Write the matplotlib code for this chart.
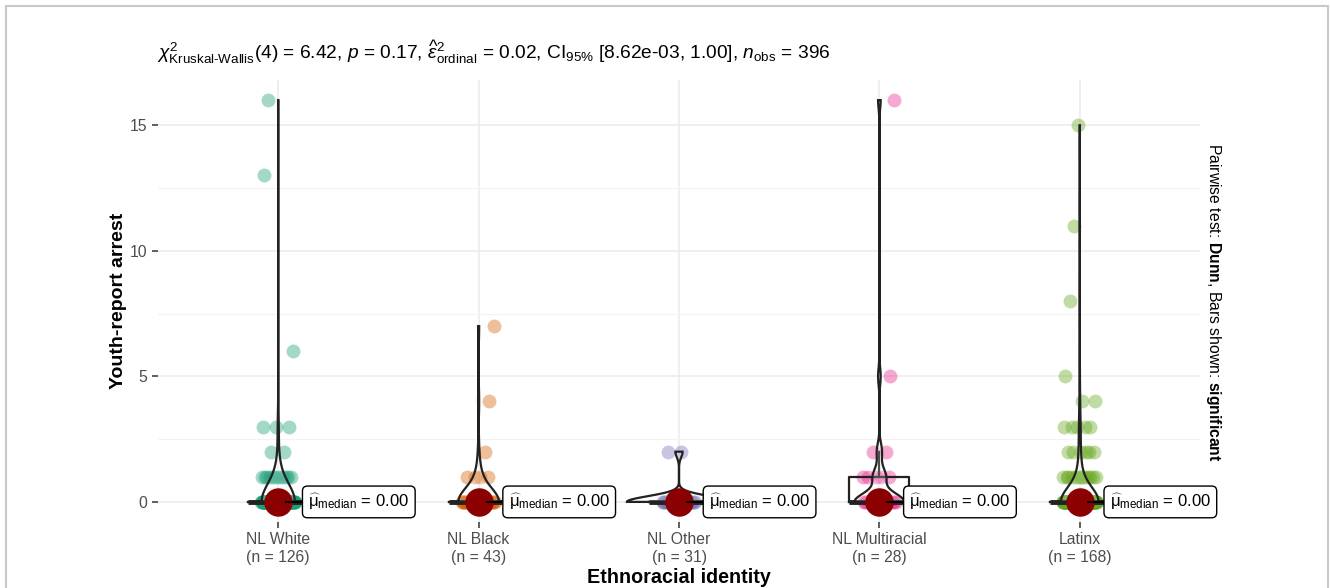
import numpy as np
import matplotlib
matplotlib.use("Agg")
import matplotlib.pyplot as plt
from matplotlib.patches import Rectangle, Polygon

plt.rcParams['font.family'] = ['Liberation Sans', 'DejaVu Sans']
plt.rcParams['mathtext.fontset'] = 'custom'
plt.rcParams['mathtext.rm'] = 'Liberation Sans'
plt.rcParams['mathtext.it'] = 'Liberation Sans:italic'
plt.rcParams['mathtext.bf'] = 'Liberation Sans:bold'

# 数据: 各组取值 -> 人数
groups = ['NL White', 'NL Black', 'NL Other', 'NL Multiracial', 'Latinx']
white = {16: 1, 13: 1, 6: 1, 3: 3, 2: 2, 1: 12, 0: 106}
black = {7: 1, 4: 1, 2: 1, 1: 4, 0: 36}
other = {2: 2, 0: 29}
multi = {16: 1, 5: 1, 2: 2, 1: 5, 0: 19}
latinx = {15: 1, 11: 1, 8: 1, 5: 1, 4: 2, 3: 5, 2: 6, 1: 14, 0: 137}
colors = ['#1B9E77', '#D95F02', '#7570B3', '#E7298A', '#66A61E']
title_txt = (r'$\chi^2_{\text{Kruskal-Wallis}}$(4) = 6.42, $\it{p}$ = 0.17, '
             r'$\widehat{\varepsilon}^2_{\text{ordinal}}$ = 0.02, CI$_{95\%}$ [8.62e-03, 1.00], '
             r'$\it{n}_{\text{obs}}$ = 396')

data = []
for d in [white, black, other, multi, latinx]:
    vals = []
    for k, c in d.items():
        vals += [k] * c
    data.append(np.array(vals, dtype=float))


def bw_nrd0(x):
    hi = np.std(x, ddof=1)
    q1, q3 = np.percentile(x, [25, 75])
    lo = min(hi, (q3 - q1) / 1.34)
    if not lo:
        lo = hi
    return 0.9 * lo * len(x) ** (-0.2)


fig = plt.figure(figsize=(13.3, 5.88), dpi=100)
ax = fig.add_axes([158 / 1330, 1 - 522 / 588, (1200 - 158) / 1330, (522 - 80) / 588])
pos = np.arange(1, 6)

# 散点 (确定性抖动, 同值内按黄金分割序列铺开)
for i, v in enumerate(data):
    off = np.zeros(len(v))
    for k, val in enumerate(np.unique(v)):
        idx = np.where(v == val)[0]
        off[idx] = ((np.arange(len(idx)) * 0.6180339887 + 0.42 + 0.13 * k) % 1 - 0.5) * 0.17
    ax.scatter(pos[i] + off, v, s=100, color=colors[i], alpha=0.4, linewidths=0, zorder=2)

# 箱线图
ax.boxplot(data, positions=pos, widths=0.3, showfliers=False, showcaps=False,
           patch_artist=False, manage_ticks=False,
           boxprops=dict(color='#222222', lw=1.6),
           whiskerprops=dict(color='#222222', lw=1.6),
           medianprops=dict(color='#222222', lw=3.5),
           zorder=3)

# 小提琴图
dens_all = []
for v in data:
    bw = bw_nrd0(v)
    yy = np.linspace(v.min(), v.max(), 512)
    dd = np.exp(-0.5 * ((yy[:, None] - v[None, :]) / bw) ** 2).sum(axis=1) / (len(v) * bw * np.sqrt(2 * np.pi))
    dens_all.append((yy, dd))
dmax = max(d.max() for _, d in dens_all)
for i, (yy, dd) in enumerate(dens_all):
    w = 0.26 * dd / dmax
    xs = np.concatenate([pos[i] - w, (pos[i] + w)[::-1]])
    ys = np.concatenate([yy, yy[::-1]])
    ax.add_patch(Polygon(np.column_stack([xs, ys]), closed=True, facecolor=(1, 1, 1, 0.2),
                         edgecolor='#222222', lw=1.6, zorder=4))

# 中位数点和标签
for i, v in enumerate(data):
    med = np.median(v)
    ax.scatter(pos[i], med, s=420, color='#8B0000', zorder=5, linewidths=0)
    ax.plot([pos[i] + 0.04, pos[i] + 0.125], [med, med], color='black', lw=1.5, zorder=6)
    ax.text(pos[i] + 0.15, med, r'$\widehat{\mathrm{\mu}}_{\mathrm{median}}$ = 0.00', fontsize=12,
            ha='left', va='center', zorder=7,
            bbox=dict(boxstyle='round,pad=0.35,rounding_size=0.3', fc='white', ec='black', lw=1.0))

ax.set_xlim(0.4, 5.6)
ax.set_ylim(-0.8, 16.8)
ax.set_xticks(pos)
ax.set_xticklabels([f'{g}\n(n = {len(v)})' for g, v in zip(groups, data)])
ax.set_yticks([0, 5, 10, 15])
ax.set_yticks([2.5, 7.5, 12.5], minor=True)
ax.tick_params(axis='both', which='major', labelsize=11.3, labelcolor='#4D4D4D', color='#333333',
               length=4, width=1.1)
ax.tick_params(axis='y', which='minor', length=0)
ax.grid(True, which='major', color='#EBEBEB', lw=1.1)
ax.grid(True, which='minor', axis='y', color='#F3F3F3', lw=0.8)
ax.set_axisbelow(True)
for s in ax.spines.values():
    s.set_visible(False)

ax.set_xlabel('Ethnoracial identity', fontsize=14.2, fontweight='bold', labelpad=2)
ax.set_ylabel('Youth-report arrest', fontsize=14, fontweight='bold', labelpad=2)
fig.text(157 / 1330, 1 - 52 / 588, title_txt, fontsize=13.8, ha='left', va='center')
fig.text(1213 / 1330, 1 - 302 / 588, r'Pairwise test: $\mathbf{Dunn}$, Bars shown: $\mathbf{significant}$',
         fontsize=11.3, rotation=270, ha='center', va='center')

# 外框
fig.patches.append(Rectangle((6 / 1330, -0.05), 1322 / 1330, 1.05 - 6 / 588, transform=fig.transFigure,
                             fill=False, ec='#C8C8C8', lw=1.5))

plt.savefig('out.png', dpi=100)
